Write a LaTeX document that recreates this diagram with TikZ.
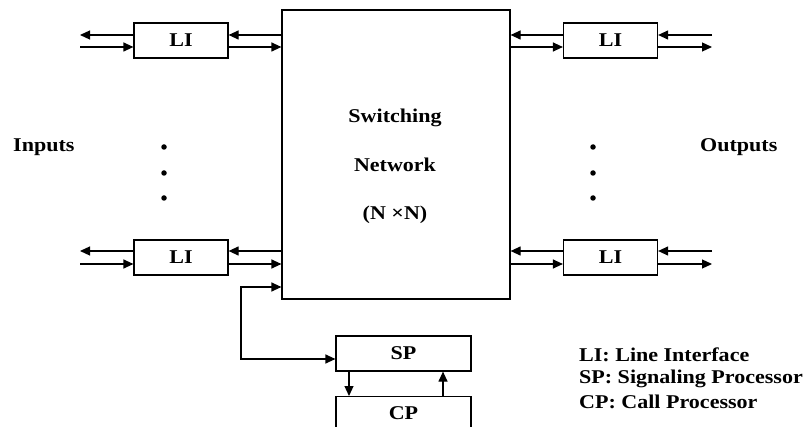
\documentclass[tikz,border=0pt]{standalone}
\usepackage{fontspec}
\setmainfont[FakeStretch=1.13]{Liberation Serif}
\usetikzlibrary{arrows.meta}
\tikzset{
  txt/.style={font=\bfseries\fontsize{19.5}{23}\selectfont, inner sep=0pt},
  box/.style={draw, line width=1.2pt, inner sep=0pt, txt},
  libox/.style={box, minimum width=94pt, minimum height=35pt},
  tip/.tip={Triangle[length=10pt,width=9pt]},
  arr/.style={line width=1.2pt, -tip},
  arrboth/.style={line width=1.2pt, tip-tip},
  dot/.style={circle, fill, inner sep=0pt, minimum size=5.5pt}
}
\begin{document}
\begin{tikzpicture}[x=1pt,y=-1pt]
\useasboundingbox (0,0) rectangle (810,427);
\clip (0,0) rectangle (810,427);
% switching network
\node[box, minimum width=228pt, minimum height=289pt] (SN) at (396,154.5) {};
\node[txt, align=center, font=\bfseries\fontsize{19.5}{48.5}\selectfont] (snt) at (395,166.5) {Switching\\Network\\(N ×N)};
% line interfaces
\node[libox] (TL) at (181,40.5) {LI};
\node[libox] (BL) at (181,257.5) {LI};
\node[libox] (TR) at (610.5,40.5) {LI};
\node[libox] (BR) at (610.5,257.5) {LI};
% processors
\node[box, minimum width=135pt, minimum height=35pt] (SP) at (403.5,353.5) {SP};
\node[box, minimum width=135pt, anchor=north, text height=22.5pt, text depth=21.5pt] (CP) at (403.5,396) {CP};
% free ends
\coordinate (tl1) at (80,35);  \coordinate (tl2) at (80,47);
\coordinate (bl1) at (80,251); \coordinate (bl2) at (80,264);
\coordinate (tr1) at (712,35); \coordinate (tr2) at (712,47);
\coordinate (br1) at (712,251); \coordinate (br2) at (712,264);
% left top
\draw[arr] (TL.west |- tl1) -- (tl1);
\draw[arr] (tl2) -- (TL.west |- tl2);
\draw[arr] (SN.west |- tl1) -- (TL.east |- tl1);
\draw[arr] (TL.east |- tl2) -- (SN.west |- tl2);
% left bottom
\draw[arr] (BL.west |- bl1) -- (bl1);
\draw[arr] (bl2) -- (BL.west |- bl2);
\draw[arr] (SN.west |- bl1) -- (BL.east |- bl1);
\draw[arr] (BL.east |- bl2) -- (SN.west |- bl2);
% right top
\draw[arr] (tr1) -- (TR.east |- tr1);
\draw[arr] (TR.east |- tr2) -- (tr2);
\draw[arr] (TR.west |- tr1) -- (SN.east |- tr1);
\draw[arr] (SN.east |- tr2) -- (TR.west |- tr2);
% right bottom
\draw[arr] (br1) -- (BR.east |- br1);
\draw[arr] (BR.east |- br2) -- (br2);
\draw[arr] (BR.west |- br1) -- (SN.east |- br1);
\draw[arr] (SN.east |- br2) -- (BR.west |- br2);
% control path
\coordinate (spin) at (241,359);
\coordinate (k) at (241,287);
\draw[arrboth] (SP.west |- spin) -- (spin) -- (k) -- (SN.west |- k);
\coordinate (d1) at (349,380);
\coordinate (u1) at (443,380);
\draw[arr] (SP.south -| d1) -- (CP.north -| d1);
\draw[arr] (CP.north -| u1) -- (SP.south -| u1);
% dots
\foreach \yy [count=\i] in {147,173,198}{
  \node[dot] (ld\i) at (164,\yy) {};
  \node[dot] (rd\i) at (593,\yy) {};
}
% labels
\node[txt, anchor=west] (inp) at (13,147) {Inputs};
\node[txt, anchor=west] (outp) at (700,147) {Outputs};
\node[txt, anchor=west] (lg1) at (579,355) {LI: Line Interface};
\node[txt, anchor=west] (lg2) at (579,378.5) {SP: Signaling Processor};
\node[txt, anchor=west] (lg3) at (579,402) {CP: Call Processor};
\end{tikzpicture}
\end{document}
